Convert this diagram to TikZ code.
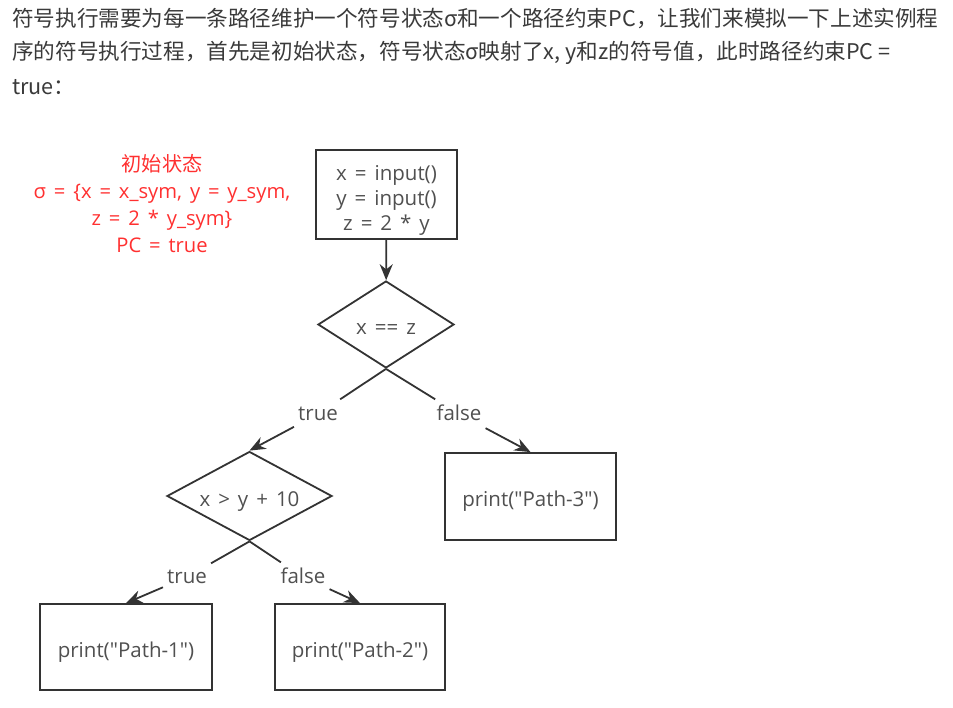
\documentclass[tikz,border=0pt]{standalone}
\usepackage{fontspec}
\setmainfont{Noto Sans CJK SC}
\newfontfamily\chartfont{Open Sans}[Ligatures=TeXOff, WordSpace=1.5]
\newfontfamily\cjkfont{Noto Sans CJK SC}
\usetikzlibrary{arrows.meta,shapes.geometric}
\definecolor{line-gray}{HTML}{333333}
\definecolor{text-gray}{HTML}{505050}
\definecolor{para-gray}{HTML}{3A3A3A}
\definecolor{note-red}{HTML}{FF3030}

\tikzset{
  para/.style={anchor=west, inner sep=0pt, text=para-gray, font=\fontsize{21.6}{30}\selectfont},
  note/.style={align=center, inner sep=0pt, text=note-red, font=\chartfont\fontsize{20.2}{27}\selectfont},
  box/.style={draw=line-gray, line width=1.8pt, align=center, text=text-gray, font=\chartfont\fontsize{20.5}{25}\selectfont},
  oneline/.style={text height=23pt, text depth=2.3pt},
  cond/.style={diamond, draw=line-gray, line width=1.8pt, inner sep=0pt, oneline, text=text-gray, font=\chartfont\fontsize{20.5}{25}\selectfont},
  branch/.style={inner sep=4pt, text height=17pt, text depth=4pt, text=text-gray, font=\chartfont\fontsize{20.5}{25}\selectfont},
  flow/.style={draw=line-gray, line width=1.8pt},
  arr/.style={flow, -{Stealth[length=16pt,width=13pt]}}
}

\begin{document}
\begin{tikzpicture}[x=1pt,y=-1pt]
\useasboundingbox (0,0) rectangle (953,708);

% explanation above the chart
\node[para] (p1) at (12,19) {符号执行需要为每一条路径维护一个符号状态σ和一个路径约束PC，让我们来模拟一下上述实例程};
\node[para] (p2) at (12,53) {序的符号执行过程，首先是初始状态，符号状态σ映射了x, y和z的符号值，此时路径约束PC =};
\node[para] (p3) at (12,87) {true：};

% initial state
\node[note] (init) at (162,204) {{\cjkfont 初始状态}\\σ = \{x = x\_sym, y = y\_sym,\\z = 2 * y\_sym\}\\PC = true};

% flow chart
\node[box, minimum width=141pt, minimum height=84pt] (start) at (386.5,194.5) {\rule{0pt}{27pt}x = input()\\y = input()\\z = 2 * y};
\node[cond, aspect=1.56, minimum width=136pt, minimum height=87pt] (c1) at (386,324.5) {x == z};
\node[cond, aspect=1.85, minimum width=165pt, minimum height=89pt] (c2) at (249.5,496) {x > y + 10};
\node[box, oneline, minimum width=171pt, minimum height=87pt] (path3) at (530.5,496.5) {print("Path-3")};
\node[box, oneline, minimum width=172pt, minimum height=86pt] (path1) at (126,647) {print("Path-1")};
\node[box, oneline, minimum width=170pt, minimum height=86pt] (path2) at (360,647) {print("Path-2")};

\node[branch] (t1) at (318,414) {true};
\node[branch] (f1) at (459,414) {false};
\node[branch] (t2) at (187,577) {true};
\node[branch] (f2) at (303,577) {false};

\draw[arr] (start) -- (c1);
\draw[flow] (c1.south) -- (t1);
\draw[arr] (t1) -- (c2.north);
\draw[flow] (c1.south) -- (f1);
\draw[arr] (f1) -- (path3.north);
\draw[flow] (c2.south) -- (t2);
\draw[arr] (t2) -- (path1.north);
\draw[flow] (c2.south) -- (f2);
\draw[arr] (f2) -- (path2.north);

\end{tikzpicture}
\end{document}
